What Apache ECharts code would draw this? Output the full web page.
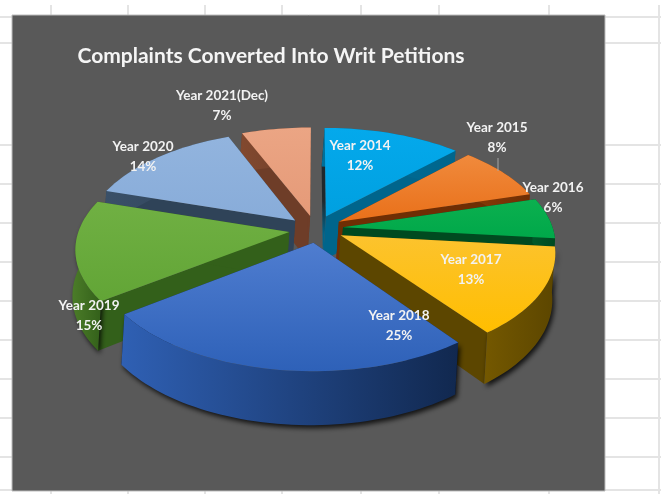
<!DOCTYPE html>
<html>
<head>
<meta charset="utf-8">
<style>html,body{margin:0;padding:0;background:#fff}#main{width:661px;height:494px}</style>
<script src="https://cdn.jsdelivr.net/npm/echarts@6/dist/echarts.min.js"></script>
</head>
<body>
<div id="main"></div>
<script>
var titleText = "Complaints Converted Into Writ Petitions";
var categories = ["Year 2014","Year 2015","Year 2016","Year 2017","Year 2018","Year 2019","Year 2020","Year 2021(Dec)"];
var values = [12,8,6,13,25,15,14,7];

// colours : top (light, dark), wall (light, dark)
var topColors = [["#04a9ec","#00a0e0"],["#f08a3c","#e9701a"],["#0cb04f","#00a84a"],["#fcc32e","#ffbe00"],["#4f7dd0","#2e61b8"],["#70b043","#62a536"],["#92b4de","#88acd9"],["#eba584","#e59a78"]];
var wallColors = [["#006f99","#00658c"],["#8a3c08","#6f2e04"],["#00592a","#004a20"],["#745800","#5c4600"],["#2f60b4","#11284f"],["#4b7c28","#33601a"],["#3a5068","#2f4358"],["#82492f","#6e3d28"]];

// label centres in pixels
var labelPos = [[360,156],[497,138],[553,198],[471,270],[399,326],[89,316],[143,157],[222,106]];

// pie layout
var cx = 316, cy = 229;      // centre of the top face
var rx = 210, ry = 105;      // radius on screen
var thick = 45;              // wall height
var persp = 0.147;           // how much the far side shrinks
var explode = 0.13;
var viewShift = -3;          // bottom edge sits a little to the left of the top edge
var skew = 0.052;            // the front of the pie is turned slightly clockwise

// spreadsheet behind the chart
var gridY = [17,43,145,184,223,262,301,340,379,418,457,490];
var gridX = [51,128,205,282,361,439,549,659];

function project(x, y, z){
	var s = 1 / (1 + persp * y);
	return [cx + rx * x * s + viewShift * z, cy - ry * y * s + thick * z * s];
}

// the picture is not a clean projection: the far edge stays put, the rest turns
function warp(a){
	var deg = a * 180 / Math.PI;
	return a + skew * Math.max(0, Math.min(1, deg / 120, (360 - deg) / 25));
}

// points of one arc, from a0 to a1 (radians, clockwise from 12 o'clock)
function arc(ox, oy, a0, a1, z){
	var pts = [];
	var n = Math.max(2, Math.ceil((a1 - a0) / 0.03));
	for(var i=0;i<=n;i++){
		var a = warp(a0 + (a1 - a0) * i / n);
		pts.push(project(ox + Math.sin(a), oy + Math.cos(a), z));
	}
	return pts;
}

var total = 0;
for(var i=0;i<values.length;i++){ total += values[i]; }

var sliceData = [];
var cum = 0;
for(var i=0;i<values.length;i++){
	var a0 = cum / total * Math.PI * 2;
	cum += values[i];
	var a1 = cum / total * Math.PI * 2;
	sliceData.push([i, values[i], a0, a1]);
}
// paint from the far side to the near side
sliceData.sort(function(p, q){
	return Math.cos((q[2]+q[3])/2) - Math.cos((p[2]+p[3])/2);
});

function renderSlice(params, api){
	var idx = api.value(0);
	var a0 = api.value(2), a1 = api.value(3);
	var mid = (a0 + a1) / 2;
	var ox = explode * Math.sin(mid), oy = explode * Math.cos(mid);
	var topArc = arc(ox, oy, a0, a1, 0);
	var botArc = arc(ox, oy, a0, a1, 1);
	var apexT = project(ox, oy, 0), apexB = project(ox, oy, 1);
	var wall = wallColors[idx], top = topColors[idx];

	var outer = topArc.concat(botArc.slice().reverse());
	var wallA = [apexT, topArc[0], botArc[0], apexB];
	var wallB = [apexT, topArc[topArc.length-1], botArc[botArc.length-1], apexB];

	var outerStyle = {
		fill:{type:'linear',x:0,y:0,x2:1,y2:0,colorStops:[{offset:0,color:wall[0]},{offset:1,color:wall[1]}]}
	};
	// only the near slices throw a shadow on the background
	if(Math.cos(mid) < 0){
		outerStyle.shadowBlur = 5;
		outerStyle.shadowColor = 'rgba(0,0,0,0.8)';
		outerStyle.shadowOffsetX = 2;
		outerStyle.shadowOffsetY = 3;
	}
	// the 12 o'clock cut is nearly edge on and looks black at the top
	var wallAFill = wall[1];
	if(a0 < 0.01){
		wallAFill = {type:'linear',x:0,y:0,x2:0,y2:1,colorStops:[{offset:0,color:'#20282c'},{offset:0.55,color:'#20282c'},{offset:0.8,color:wall[1]},{offset:1,color:wall[1]}]};
	}
	return {
		type: 'group',
		children: [
			{type:'polygon', shape:{points:wallA}, style:{fill:wallAFill}},
			{type:'polygon', shape:{points:wallB}, style:{fill:wall[1]}},
			{type:'polygon', shape:{points:outer}, style:outerStyle},
			{type:'polygon', shape:{points:[apexT].concat(topArc)}, style:{
				fill:{type:'linear',x:0,y:0,x2:0,y2:1,colorStops:[{offset:0,color:top[0]},{offset:1,color:top[1]}]}
			}}
		]
	};
}

function renderLabel(params, api){
	var idx = api.value(0);
	var p = labelPos[idx];
	var kids = [{
		type:'text',
		x:p[0], y:p[1],
		style:{
			text: categories[idx] + "\n" + api.value(1) + "%",
			fill:'#f2f2f2',
			font:'bold 13.5px Lato, "Open Sans", sans-serif',
			lineHeight:20,
			align:'center',
			verticalAlign:'middle'
		}
	}];
	// year 2015 has a leader line down to its slice
	if(idx == 1){
		kids.push({type:'line', shape:{x1:p[0]+1,y1:p[1]+20,x2:p[0]+1,y2:p[1]+33}, style:{stroke:'#a6a6a6',lineWidth:1}});
	}
	return {type:'group', children:kids};
}

var bg = [];
for(var i=0;i<gridY.length;i++){
	bg.push({type:'rect', z:-3, silent:true, shape:{x:0,y:gridY[i]-1,width:661,height:2}, style:{fill:'#e4e4e4'}});
}
for(var i=0;i<gridX.length;i++){
	bg.push({type:'rect', z:-3, silent:true, shape:{x:gridX[i]-1,y:5,width:2,height:489}, style:{fill:'#e4e4e4'}});
}
bg.push({type:'rect', z:-2, silent:true, shape:{x:12,y:15,width:593,height:476}, style:{fill:'#595959',stroke:'#bdbdbd',lineWidth:1}});

var myChart = echarts.init(document.getElementById("main"), null, {renderer:'canvas'});
var option = {
	animation:false,
	backgroundColor:'#ffffff',
	title:{
		text:titleText,
		left:266,
		top:41,
		textAlign:'center',
		textStyle:{color:'#f5f5f5',fontFamily:'Lato, "Open Sans", sans-serif',fontWeight:'bold',fontSize:21}
	},
	graphic:bg,
	series:[{
		type:'custom',
		coordinateSystem:'none',
		silent:true,
		renderItem:renderSlice,
		data:sliceData
	},{
		type:'custom',
		coordinateSystem:'none',
		silent:true,
		z:5,
		renderItem:renderLabel,
		data:sliceData
	}]
};
myChart.setOption(option);
</script>
</body>
</html>
